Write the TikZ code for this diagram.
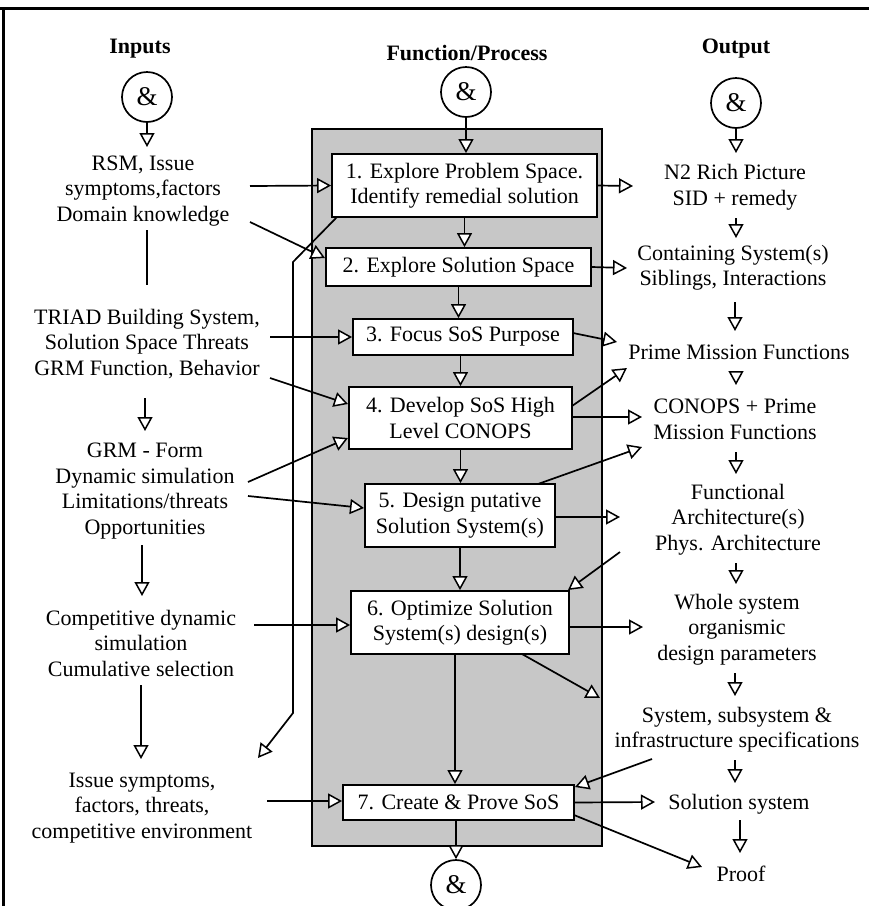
\documentclass[tikz,border=0pt]{standalone}
\usepackage{fontspec}
\setmainfont{Liberation Serif}
\usetikzlibrary{arrows.meta}
\newcommand{\fs}{\fontsize{22}{25.5}\selectfont}
\begin{document}
\begin{tikzpicture}[x=1pt,y=-1pt,
  txt/.style={font=\fs, align=center, inner sep=0pt},
  hdr/.style={font=\fs\bfseries, inner sep=0pt},
  stepbox/.style={draw, line width=1.8pt, fill=white, font=\fs, align=center, inner sep=0pt},
  andc/.style={circle, draw, line width=1.7pt, fill=white, minimum size=50pt, inner sep=0pt,
               font=\fontsize{27}{27}\selectfont},
  flow/.style={line width=1.7pt, -{Triangle[length=14pt,width=15pt,fill=white,line width=1.5pt]}},
  link/.style={line width=1.7pt}]
\useasboundingbox (0,0) rectangle (869,906);

% frame edges
\draw[line width=2.6pt] (0,8.5) -- (869,8.5);
\draw[line width=2.2pt] (3.5,8.5) -- (3.5,906);

% process panel
\draw[fill=black!22, line width=1.8pt] (312,129) rectangle (602,846);

% column headings
\node[hdr] (hIn)  at (140,49) {Inputs};
\node[hdr] (hFn)  at (467,53) {Function/Process};
\node[hdr] (hOut) at (736,49) {Output};

% AND junctions
\node[andc] (cI) at (147,97) {\&};
\node[andc] (cF) at (466,92) {\&};
\node[andc] (cO) at (736,103) {\&};
\node[andc] (cB) at (456,885) {\&};

% process steps
\node[stepbox, minimum width=265pt, minimum height=63pt] (b1) at (464.5,185.5) {1. Explore Problem Space.\\Identify remedial solution};
\node[stepbox, minimum width=265pt, minimum height=38pt] (b2) at (458.5,267) {2. Explore Solution Space};
\node[stepbox, minimum width=220pt, minimum height=36pt] (b3) at (463,337) {3. Focus SoS Purpose};
\node[stepbox, minimum width=223pt, minimum height=62pt] (b4) at (460.5,418) {4. Develop SoS High\\Level CONOPS};
\node[stepbox, minimum width=190pt, minimum height=63pt] (b5) at (460,515.5) {5. Design putative\\Solution System(s)};
\node[stepbox, minimum width=218pt, minimum height=63pt] (b6) at (460,622.5) {6. Optimize Solution\\System(s) design(s)};
\node[stepbox, minimum width=231pt, minimum height=35pt] (b7) at (458.5,802.5) {7. Create \& Prove SoS};

% inputs
\node[txt] (rsm)   at (143,191) {RSM, Issue\\symptoms,factors\\Domain knowledge};
\node[txt] (triad) at (147,344) {TRIAD Building System,\\Solution Space Threats\\GRM Function, Behavior};
\node[txt] (grm)   at (145,491) {GRM - Form\\Dynamic simulation\\Limitations/threats\\Opportunities};
\node[txt] (comp)  at (141,643) {Competitive dynamic\\simulation\\Cumulative selection};
\node[txt] (iss)   at (142,808) {Issue symptoms,\\factors, threats,\\competitive environment};

% outputs
\node[txt] (n2)     at (735,187)   {N2 Rich Picture\\SID + remedy};
\node[txt] (cont)   at (733,267.5) {Containing System(s)\\Siblings, Interactions};
\node[txt] (pmf)    at (739,352)   {Prime Mission Functions};
\node[txt] (conops) at (735,419.5) {CONOPS + Prime\\Mission Functions};
\node[txt] (arch)   at (738,519.5) {Functional\\Architecture(s)\\Phys. Architecture};
\node[txt] (whole)  at (737,629.5) {Whole system\\organismic\\design parameters};
\begin{scope}
  \clip (600,700) rectangle (858,760);
  \node[txt] (spec) at (737,729.5) {System, subsystem \&\\infrastructure specifications};
\end{scope}
\node[txt] (sol)   at (739,804) {Solution system};
\node[txt] (proof) at (741,874) {Proof};

% connector end points
\coordinate (rsmT) at (147,147);
\coordinate (rsmB) at (147,230);  \coordinate (triT) at (147,285);
\coordinate (triB) at (145,398);  \coordinate (grmT) at (145,431);
\coordinate (grmB) at (142,545);  \coordinate (compT) at (142,596);
\coordinate (compB) at (141,685); \coordinate (issT) at (141,759);

\coordinate (n2T) at (736,153);
\coordinate (n2B) at (736,218);    \coordinate (contT) at (736,238);
\coordinate (contB) at (735,302);  \coordinate (pmfT) at (735,331);
\coordinate (pmfB) at (736,371);   \coordinate (conT) at (736,385);
\coordinate (conB) at (736,452);   \coordinate (archT) at (736,474);
\coordinate (archB) at (736,563);  \coordinate (wholeT) at (736,584);
\coordinate (wholeB) at (735,673); \coordinate (specT) at (735,696);
\coordinate (specB) at (735,760);  \coordinate (solT) at (735,783);
\coordinate (solB) at (740,820);   \coordinate (proofT) at (740,853);

\coordinate (rsmR1) at (250,186);
\coordinate (rsmR2) at (250,222);  \coordinate (b2in) at (325,258);
\coordinate (loopA) at (337,217);  \coordinate (loopB) at (293,262);
\coordinate (loopC) at (293,713);  \coordinate (issIn) at (258,758);
\coordinate (triR1) at (270,337);
\coordinate (triR2) at (270,378);  \coordinate (b4inA) at (348,404);
\coordinate (grmR1) at (248,482);  \coordinate (b4inB) at (348,438);
\coordinate (grmR2) at (248,496);  \coordinate (b5in) at (364,508);
\coordinate (compR) at (254,625);
\coordinate (issR) at (267,801);

\coordinate (n2L) at (633,186);
\coordinate (contL) at (627,268);
\coordinate (b3out) at (573,333);  \coordinate (pmfL1) at (617,342);
\coordinate (b4outA) at (572,406); \coordinate (pmfL2) at (627,368);
\coordinate (conL1) at (642,417);
\coordinate (b5outA) at (538,484); \coordinate (conL2) at (642,447);
\coordinate (archL1) at (620,517);
\coordinate (archL2) at (620,552); \coordinate (b6in) at (568,590);
\coordinate (wholeL) at (643,627);
\coordinate (b6outB) at (522,654); \coordinate (specL1) at (600,698);
\coordinate (specL2) at (652,759); \coordinate (b7in) at (575,787);
\coordinate (solL) at (655,802);
\coordinate (b7outB) at (574,815); \coordinate (proofL) at (702,867);

% process chain
\draw[flow] (cF.south) -- (cF.south |- b1.north);
\draw[flow] (b1.south) -- (b1.south |- b2.north);
\draw[flow] (b2.south) -- (b2.south |- b3.north);
\draw[flow] (b4.north |- b3.south) -- (b4.north);
\draw[flow] (b4.south) -- (b4.south |- b5.north);
\draw[flow] (b5.south) -- (b5.south |- b6.north);
\draw[flow] ([xshift=-5pt]b6.south) -- ([xshift=-5pt]b6.south |- b7.north);
\draw[flow] (cB.north |- b7.south) -- (cB.north);

% input column
\draw[flow] (cI.south) -- (rsmT);
\draw[link] (rsmB) -- (triT);
\draw[flow] (triB) -- (grmT);
\draw[flow] (grmB) -- (compT);
\draw[flow] (compB) -- (issT);

% output column
\draw[flow] (cO.south) -- (n2T);
\draw[flow] (n2B) -- (contT);
\draw[flow] (contB) -- (pmfT);
\draw[flow] (pmfB) -- (conT);
\draw[flow] (conB) -- (archT);
\draw[flow] (archB) -- (wholeT);
\draw[flow] (wholeB) -- (specT);
\draw[flow] (specB) -- (solT);
\draw[flow] (solB) -- (proofT);

% inputs into steps
\draw[flow] (rsmR1) -- (b1.west);
\draw[flow] (rsmR2) -- (b2in);
\draw[flow] (loopA) -- (loopB) -- (loopC) -- (issIn);
\draw[flow] (triR1) -- (b3.west);
\draw[flow] (triR2) -- (b4inA);
\draw[flow] (grmR1) -- (b4inB);
\draw[flow] (grmR2) -- (b5in);
\draw[flow] (compR) -- (compR -| b6.west);
\draw[flow] (issR) -- (issR -| b7.west);

% steps into outputs
\draw[flow] (b1.east) -- (n2L);
\draw[flow] (b2.east) -- (contL);
\draw[flow] (b3out) -- (pmfL1);
\draw[flow] (b4outA) -- (pmfL2);
\draw[flow] (conL1 -| b4.east) -- (conL1);
\draw[flow] (b5outA) -- (conL2);
\draw[flow] (archL1 -| b5.east) -- (archL1);
\draw[flow] (archL2) -- (b6in);
\draw[flow] (wholeL -| b6.east) -- (wholeL);
\draw[flow] (b6outB) -- (specL1);
\draw[flow] (specL2) -- (b7in);
\draw[flow] (b7.east) -- (solL);
\draw[flow] (b7outB) -- (proofL);
\end{tikzpicture}
\end{document}
